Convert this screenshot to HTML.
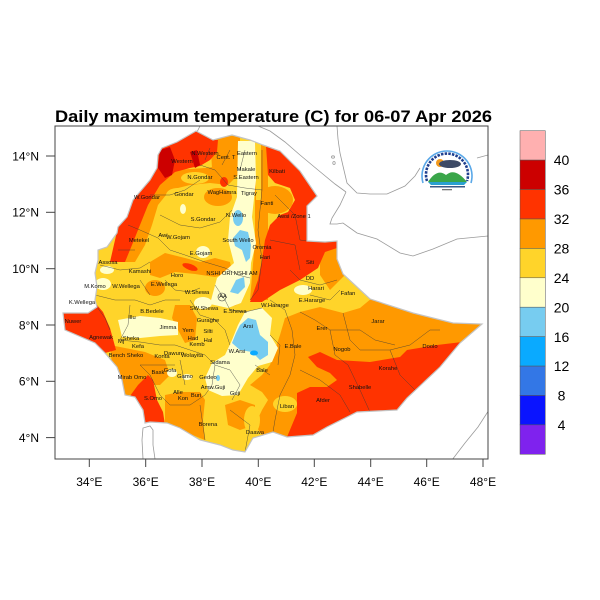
<!DOCTYPE html>
<html><head><meta charset="utf-8"><style>
html,body{margin:0;padding:0;background:#fff;}
svg{display:block;font-family:"Liberation Sans",sans-serif;}
</style></head><body>
<svg width="600" height="600" viewBox="0 0 600 600" xmlns="http://www.w3.org/2000/svg">
<defs>
<clipPath id="eth"><path d="M162,148 L177,142 L196,131 L213,140 L232,135 L250,140 L263,145 L280,151 L300,171 L317,196 L307,206 L307,241 L325,242 L337,241 L337,259 L343,274 L370,299 L413,313 L453,323 L482,324 L460,343 L440,367 L423,383 L407,398 L397,410 L357,412 L347,417 L327,427 L313,435 L287,437 L273,432 L253,438 L245,452 L233,450 L220,445 L200,440 L180,428 L167,423 L150,422 L145,423 L143,410 L135,397 L125,395 L122,380 L117,367 L105,353 L95,343 L65,330 L63,313 L88,313 L97,307 L95,300 L97,287 L95,273 L98,260 L98,250 L107,247 L117,233 L118,227 L127,217 L133,200 L150,180 L157,168 L158,155 Z"/></clipPath>
<clipPath id="frame"><rect x="55" y="126" width="433" height="333"/></clipPath>
</defs>
<rect width="600" height="600" fill="#fff"/>

<!-- title -->
<text x="55" y="122" font-size="17" font-weight="bold" fill="#000" textLength="437" lengthAdjust="spacingAndGlyphs">Daily maximum temperature (C) for 06-07 Apr 2026</text>

<g clip-path="url(#frame)">
<g fill="none" stroke="#9a9a9a" stroke-width="0.8">
<path d="M197,132 L200,126"/>
<path d="M258,126 L270,131 L285,142 L300,155 L318,170 L335,184 L346,192"/>
<path d="M337,126 L338,139 L340,153 L343,166 L347,183 L357,193 L370,194 L387,194 L405,186 L415,176 L420,168"/>
<path d="M477,158 L488,155"/>
<path d="M346,192 L340,205 L332,218 L330,224 L337,224 L343,223 L350,228 L357,233 L377,239 L400,253 L413,256 L433,249 L457,239 L488,236"/>
<path d="M489,410 L478,427 L465,443 L452,460"/>
<path d="M143,459 L142,440 L143,428 L150,426 L153,430 L153,445 L155,459"/>
<ellipse cx="333" cy="157" rx="1.5" ry="1.2"/>
<ellipse cx="334" cy="163" rx="1.2" ry="1.5"/>
</g>
</g>

<g clip-path="url(#eth)">
<rect x="50" y="120" width="450" height="350" fill="#FFD42A"/>
<g fill="#FF9900">
<path d="M118,245 L128,215 L140,195 L155,180 L175,170 L205,168 L228,165 L238,158 L238,175 L228,185 L210,183 L190,185 L170,190 L158,205 L152,225 L145,245 L135,262 L118,262 Z"/>
<path d="M210,136 L240,136 L240,160 L228,168 L212,168 Z"/>
<ellipse cx="218" cy="197" rx="14" ry="9"/>
<path d="M150,262 L165,253 L185,258 L200,262 L215,258 L230,262 L232,272 L215,277 L195,274 L175,272 L160,278 L150,275 Z"/>
<ellipse cx="155" cy="288" rx="10" ry="8"/>
<path d="M175,305 L190,305 L197,318 L195,340 L185,343 L178,330 L172,318 Z"/>
<path d="M110,345 L125,348 L145,352 L165,360 L170,375 L160,385 L145,385 L135,395 L125,395 L120,380 L112,365 Z"/>
<path d="M165,395 L180,392 L200,392 L205,400 L203,420 L205,440 L180,430 L165,423 Z"/>
<path d="M225,405 L240,400 L255,405 L255,425 L240,430 L228,425 Z"/>
<path d="M372,298 L360,308 L343,313 L320,307 L300,312 L285,318 L280,335 L275,350 L270,365 L262,375 L250,385 L262,392 L268,400 L262,410 L255,425 L262,435 L255,460 L500,460 L500,300 Z"/>
<path d="M255,140 L268,140 L268,300 L250,300 L255,240 Z"/>
<ellipse cx="275" cy="200" rx="18" ry="14"/>
<path d="M320,240 L340,240 L345,275 L330,290 L320,275 Z"/>
<ellipse cx="232" cy="300" rx="8" ry="6"/>
</g>
<g fill="#FFD42A">
<ellipse cx="285" cy="404" rx="12" ry="8"/>
<ellipse cx="178" cy="195" rx="12" ry="7"/>
<ellipse cx="252" cy="420" rx="8" ry="14"/>
<ellipse cx="265" cy="330" rx="12" ry="10"/>
<path d="M255,140 L261,140 L261,200 L256,200 Z"/>
<ellipse cx="195" cy="178" rx="14" ry="6"/>
</g>
<g fill="#FF3300">
<path d="M150,180 L157,168 L158,155 L162,148 L177,142 L196,131 L213,140 L218,140 L217,152 L210,160 L200,166 L190,168 L175,172 L160,185 L148,205 L140,225 L132,245 L125,262 L110,262 L118,227 L127,217 L133,200 Z"/>
<ellipse cx="224" cy="182" rx="4" ry="5"/>
<path d="M60,312 L88,312 L97,305 L103,312 L110,328 L116,350 L105,353 L95,343 L62,330 Z"/>
<path d="M130,396 L138,385 L148,375 L153,380 L157,400 L163,412 L165,425 L145,425 L143,410 L135,397 Z"/>
<path d="M266,146 L280,151 L300,171 L317,196 L307,206 L307,241 L337,241 L337,248 L325,252 L318,268 L300,280 L280,290 L262,302 L250,302 L258,280 L262,260 L265,240 L270,225 L280,215 L288,212 L295,200 L290,188 L275,183 L268,175 Z"/>
<path d="M308,357 L320,352 L337,360 L370,362 L400,357 L407,350 L437,345 L462,342 L475,330 L470,350 L440,367 L423,383 L407,398 L397,410 L357,412 L347,417 L327,427 L313,435 L287,437 L292,425 L297,413 L297,393 L310,387 L327,387 L337,380 L330,373 L317,367 Z"/>
<ellipse cx="190" cy="267" rx="8" ry="3" transform="rotate(20 190 267)"/>
</g>
<g fill="#CC0000">
<path d="M160,150 L170,147 L175,160 L172,175 L165,178 L158,168 Z"/>
<path d="M190,152 L197,150 L200,165 L195,168 Z"/>
</g>
<g fill="#FFFFCC">
<path d="M238,141 L255,141 L256,180 L252,217 L256,243 L251,263 L250,283 L241,303 L228,308 L210,304 L217,278 L234,263 L228,240 L230,217 L237,197 Z"/>
<path d="M245,312 L262,308 L272,318 L270,335 L278,348 L272,362 L258,366 L248,378 L238,395 L222,396 L208,390 L205,378 L212,363 L225,355 L232,340 L238,325 Z"/>
<path d="M118,320 L140,316 L160,318 L178,322 L178,335 L160,336 L140,338 L122,337 Z"/>
<ellipse cx="203" cy="303" rx="9" ry="6"/>
<ellipse cx="203" cy="252" rx="7" ry="6"/>
<ellipse cx="103" cy="284" rx="8" ry="6"/>
<ellipse cx="107" cy="270" rx="7" ry="4"/>
<ellipse cx="303" cy="290" rx="9" ry="5"/>
<ellipse cx="172" cy="373" rx="5" ry="4"/>
<ellipse cx="187" cy="377" rx="5" ry="3"/>
<ellipse cx="183" cy="209" rx="3" ry="5"/>
</g>
<g fill="#77CCF0">
<ellipse cx="238" cy="218" rx="5" ry="8"/>
<path d="M233,238 L240,230 L248,232 L251,245 L250,258 L246,262 L242,250 L235,246 Z"/>
<path d="M230,292 L236,280 L244,277 L245,287 L238,294 Z"/>
<path d="M240,325 L248,318 L256,320 L260,335 L268,342 L268,355 L260,360 L252,352 L240,350 L232,343 L236,333 Z"/>
<ellipse cx="218" cy="378" rx="2" ry="3"/>
</g>
<ellipse cx="254" cy="353" rx="4" ry="2.5" fill="#0AAAFF"/>

<g fill="none" stroke="#3a3a3a" stroke-width="0.5" stroke-opacity="0.8">
<path d="M200,165 L215,170 L228,185 L245,188 L262,190"/>
<path d="M205,160 L210,148 M222,165 L230,150 M240,170 L245,150"/>
<path d="M150,195 L170,195 L185,190 L200,180 M160,215 L180,225 L200,228 L220,222 L232,210"/>
<path d="M128,225 L140,230 L158,238 L170,250 L185,255 L205,262 L225,268 L238,275 L250,278"/>
<path d="M262,150 L262,190 L258,230 L262,260 L258,290 L250,300"/>
<path d="M275,195 L295,215 L300,240 L307,241 M270,240 L295,245 L300,270"/>
<path d="M100,265 L120,270 L140,268 L150,262 M118,250 L135,250"/>
<path d="M95,295 L115,300 L135,300 L150,305 L165,300 L180,300 M130,305 L128,325 L120,340"/>
<path d="M97,307 L105,318 L110,330"/>
<path d="M120,340 L140,342 L160,345 L175,345 L190,350 L205,355 L215,365 L212,385 L205,395 L190,405 L170,405 L160,395 L150,375 L140,365 M140,365 L160,365 L175,365 M180,360 L185,385"/>
<path d="M215,365 L230,370 L240,385 L232,400"/>
<path d="M200,405 L205,440 M230,410 L250,425 L245,452"/>
<path d="M270,300 L285,310 L292,330 L295,355 L290,375 L280,395 L275,420 L273,432"/>
<path d="M300,312 L315,320 L330,330 L335,355 L348,365 L360,390 L370,412 M343,313 L350,340 L360,350 L390,350 L410,345 L430,330 L440,330 M300,370 L320,380 L340,395 L350,412 M390,350 L400,375 L415,390 M330,330 L360,330 L375,340 L395,345"/>
<path d="M290,270 L300,280 L320,285 L337,280 M310,295 L330,300 L340,290"/>
<path d="M215,285 L225,300 L230,310 L245,312 L262,308 M190,300 L200,315 L215,320 L225,330 L230,345"/>
<path d="M270,335 L280,345 L278,365 M255,365 L270,375"/>
<path d="M165,280 L175,290 L190,292 L200,288 M140,280 L150,295"/>
</g>
<circle cx="222" cy="297" r="4" fill="none" stroke="#333" stroke-width="0.6"/>
</g>
<path d="M162,148 L177,142 L196,131 L213,140 L232,135 L250,140 L263,145 L280,151 L300,171 L317,196 L307,206 L307,241 L325,242 L337,241 L337,259 L343,274 L370,299 L413,313 L453,323 L482,324 L460,343 L440,367 L423,383 L407,398 L397,410 L357,412 L347,417 L327,427 L313,435 L287,437 L273,432 L253,438 L245,452 L233,450 L220,445 L200,440 L180,428 L167,423 L150,422 L145,423 L143,410 L135,397 L125,395 L122,380 L117,367 L105,353 L95,343 L65,330 L63,313 L88,313 L97,307 L95,300 L97,287 L95,273 L98,260 L98,250 L107,247 L117,233 L118,227 L127,217 L133,200 L150,180 L157,168 L158,155 Z" fill="none" stroke="#c4c4c4" stroke-width="1.2"/>

<g font-size="5.8" fill="#111" text-anchor="middle">
<text x="182" y="163">Western</text>
<text x="205" y="155">N.Western</text>
<text x="226" y="159">Cent. T</text>
<text x="247" y="155">Eastern</text>
<text x="246" y="171">Makale</text>
<text x="246" y="179">S.Eastern</text>
<text x="222" y="194">WagHamra</text>
<text x="249" y="195">Tigray</text>
<text x="200" y="179">N.Gondar</text>
<text x="147" y="199">W.Gondar</text>
<text x="184" y="196">Gondar</text>
<text x="203" y="221">S.Gondar</text>
<text x="236" y="217">N.Wello</text>
<text x="238" y="242">South Wello</text>
<text x="262" y="249">Oromia</text>
<text x="265" y="259">Hari</text>
<text x="139" y="242">Metekel</text>
<text x="163" y="237">Awi</text>
<text x="178" y="239">W.Gojam</text>
<text x="201" y="255">E.Gojam</text>
<text x="108" y="264">Assosa</text>
<text x="140" y="273">Kamashi</text>
<text x="177" y="277">Horo</text>
<text x="232" y="275">NSHI ORI NSHI AM</text>
<text x="95" y="288">M.Komo</text>
<text x="126" y="288">W.Wellega</text>
<text x="164" y="286">E.Wellega</text>
<text x="197" y="294">W.Shewa</text>
<text x="223" y="298">AA</text>
<text x="277" y="173">Kilbati</text>
<text x="267" y="205">Fanti</text>
<text x="294" y="218">Awsi /Zone 1</text>
<text x="310" y="264">Siti</text>
<text x="310" y="280">DD</text>
<text x="316" y="290">Harari</text>
<text x="348" y="295">Fafan</text>
<text x="312" y="302">E.Hararge</text>
<text x="275" y="307">W.Hararge</text>
<text x="378" y="323">Jarar</text>
<text x="82" y="304">K.Wellega</text>
<text x="73" y="323">Nuwer</text>
<text x="101" y="339">Agnewak</text>
<text x="121" y="343">Mj</text>
<text x="131" y="340">Sheka</text>
<text x="138" y="348">Kefa</text>
<text x="126" y="357">Bench Sheko</text>
<text x="132" y="319">Illu</text>
<text x="152" y="313">B.Bedele</text>
<text x="168" y="329">Jimma</text>
<text x="188" y="332">Yem</text>
<text x="204" y="310">SW.Shewa</text>
<text x="208" y="322">Guraghe</text>
<text x="208" y="333">Silti</text>
<text x="193" y="340">Had</text>
<text x="197" y="346">Kemb</text>
<text x="208" y="342">Hal</text>
<text x="235" y="313">E.Shewa</text>
<text x="248" y="328">Arsi</text>
<text x="237" y="353">W.Arsi</text>
<text x="174" y="355">Dawuro</text>
<text x="162" y="358">Konta</text>
<text x="192" y="357">Wolayita</text>
<text x="220" y="364">Sidama</text>
<text x="132" y="379">Mirab Omo</text>
<text x="158" y="374">Bask</text>
<text x="170" y="372">Gofa</text>
<text x="185" y="378">Gamo</text>
<text x="208" y="379">Gedeo</text>
<text x="213" y="389">Amw.Guji</text>
<text x="178" y="394">Alle</text>
<text x="183" y="400">Kon</text>
<text x="196" y="397">Buri</text>
<text x="235" y="395">Guji</text>
<text x="153" y="400">S.Omo</text>
<text x="208" y="426">Borena</text>
<text x="255" y="434">Daawa</text>
<text x="262" y="372">Bale</text>
<text x="322" y="330">Erer</text>
<text x="293" y="348">E.Bale</text>
<text x="342" y="351">Nogob</text>
<text x="430" y="348">Doolo</text>
<text x="388" y="370">Korahe</text>
<text x="360" y="389">Shabelle</text>
<text x="323" y="402">Afder</text>
<text x="287" y="408">Liban</text>
</g>

<!-- logo -->
<g>
<path d="M423,183 A25,25 0 1 1 471,183" fill="none" stroke="#5aa8e8" stroke-width="1.6"/>
<path d="M427,181 A21,21 0 1 1 467,181" fill="none" stroke="#1f3f8f" stroke-width="2.6" stroke-dasharray="2.5,1.2"/>
<circle cx="440" cy="163" r="4" fill="#f39a1e"/>
<ellipse cx="450" cy="164" rx="11" ry="4" fill="#3d4a66"/>
<path d="M428,182 Q437,168 446,175 Q455,167 467,182 Z" fill="#3aa64a"/>
<path d="M428,182 L467,182 L464,185 L431,185 Z" fill="#2aa0d0"/>
<rect x="430" y="186" width="35" height="1.5" fill="#3b5b8a"/>
<rect x="442" y="189" width="10" height="1.3" fill="#777"/>
</g>

<rect x="55" y="126" width="433" height="333" fill="none" stroke="#444" stroke-width="1"/>
<g stroke="#444" stroke-width="1">
<line x1="46" y1="156" x2="55" y2="156"/>
<line x1="46" y1="212.3" x2="55" y2="212.3"/>
<line x1="46" y1="268.7" x2="55" y2="268.7"/>
<line x1="46" y1="325" x2="55" y2="325"/>
<line x1="46" y1="381.3" x2="55" y2="381.3"/>
<line x1="46" y1="437.6" x2="55" y2="437.6"/>
<line x1="89.3" y1="459" x2="89.3" y2="467"/>
<line x1="145.7" y1="459" x2="145.7" y2="467"/>
<line x1="202" y1="459" x2="202" y2="467"/>
<line x1="258.3" y1="459" x2="258.3" y2="467"/>
<line x1="314.3" y1="459" x2="314.3" y2="467"/>
<line x1="370.7" y1="459" x2="370.7" y2="467"/>
<line x1="426.7" y1="459" x2="426.7" y2="467"/>
<line x1="483" y1="459" x2="483" y2="467"/>
</g>
<g font-size="12" fill="#000" text-anchor="end">
<text x="39" y="160.3">14°N</text>
<text x="39" y="216.6">12°N</text>
<text x="39" y="273">10°N</text>
<text x="39" y="329.3">8°N</text>
<text x="39" y="385.6">6°N</text>
<text x="39" y="441.9">4°N</text>
</g>
<g font-size="12" fill="#000" text-anchor="middle">
<text x="89.3" y="486">34°E</text>
<text x="145.7" y="486">36°E</text>
<text x="202" y="486">38°E</text>
<text x="258.3" y="486">40°E</text>
<text x="314.3" y="486">42°E</text>
<text x="370.7" y="486">44°E</text>
<text x="426.7" y="486">46°E</text>
<text x="483" y="486">48°E</text>
</g>

<g stroke="#555" stroke-width="0.5">
<rect x="520" y="130.7" width="25.3" height="29.4" fill="#FFB0B0"/>
<rect x="520" y="160.1" width="25.3" height="29.4" fill="#CC0000"/>
<rect x="520" y="189.5" width="25.3" height="29.5" fill="#FF3300"/>
<rect x="520" y="219" width="25.3" height="29.4" fill="#FF9900"/>
<rect x="520" y="248.4" width="25.3" height="29.4" fill="#FFD42A"/>
<rect x="520" y="277.8" width="25.3" height="29.4" fill="#FFFFCC"/>
<rect x="520" y="307.2" width="25.3" height="29.5" fill="#77CCF0"/>
<rect x="520" y="336.7" width="25.3" height="29.4" fill="#0AAAFF"/>
<rect x="520" y="366.1" width="25.3" height="29.4" fill="#3377E6"/>
<rect x="520" y="395.5" width="25.3" height="29.4" fill="#0A14FF"/>
<rect x="520" y="424.9" width="25.3" height="29.4" fill="#7F22EE"/>
</g>
<g font-size="14" fill="#000" text-anchor="middle">
<text x="561.5" y="165.2">40</text>
<text x="561.5" y="194.6">36</text>
<text x="561.5" y="224.1">32</text>
<text x="561.5" y="253.5">28</text>
<text x="561.5" y="282.9">24</text>
<text x="561.5" y="312.3">20</text>
<text x="561.5" y="341.8">16</text>
<text x="561.5" y="371.2">12</text>
<text x="561.5" y="400.6">8</text>
<text x="561.5" y="430">4</text>
</g>
</svg>
</body></html>
